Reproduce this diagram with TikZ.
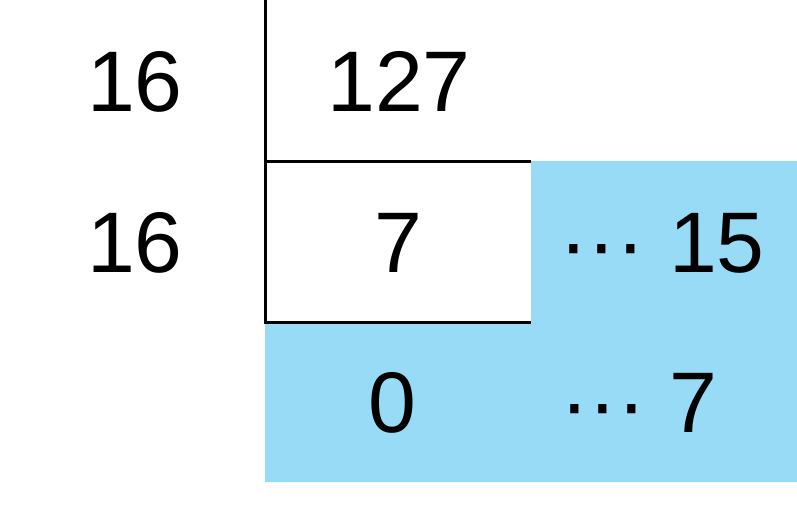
\documentclass[tikz,border=0pt]{standalone}
\usepackage{fontspec}
\setmainfont{Liberation Sans}
\definecolor{cellblue}{RGB}{151,219,247}
\begin{document}
\begin{tikzpicture}[x=1pt, y=-1pt, line cap=butt, line join=miter, num/.style={anchor=base, inner sep=0pt, font=\fontsize{86}{86}\selectfont}]
	\useasboundingbox (0,0) rectangle (797,504);
	% remainder cells
	\fill[cellblue] (531,161) -- (797,161) -- (797,482) -- (265,482) -- (265,322) -- (531,322) -- cycle;
	\draw[line width=3pt] (265,0) -- (265,322) -- (531,322) (265,161) -- (531,161);
	\node[num] (div1) at (135,111) {16};
	\node[num] (quo1) at (399,111) {127};
	\node[num] (div2) at (135,272) {16};
	\node[num] (quo2) at (398,272) {7};
	\node[num] (rem1) at (662,272) {··· 15};
	\node[num] (quo3) at (392,432) {0};
	\node[num] (rem2) at (639,432) {··· 7};
\end{tikzpicture}
\end{document}
